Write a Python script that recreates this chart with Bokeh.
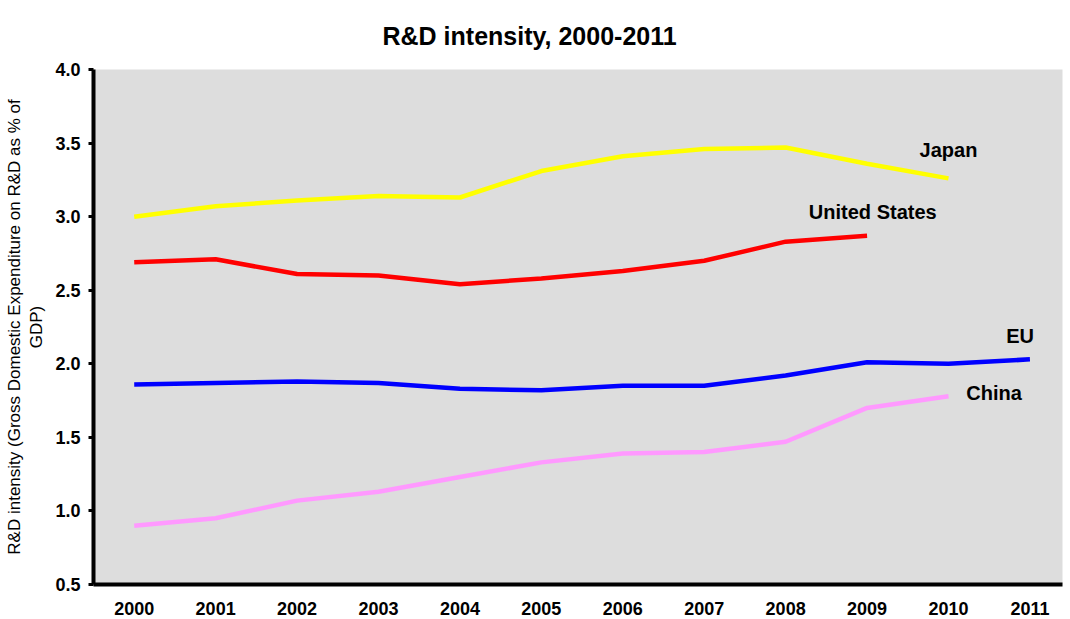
from bokeh.plotting import figure
from bokeh.models import Range1d, FixedTicker, NumeralTickFormatter, Label
from bokeh.embed import file_html
from bokeh.resources import INLINE

# R&D intensity (GERD as % of GDP), 2000-2011
years = list(range(2000, 2012))
japan = [3.00, 3.07, 3.11, 3.14, 3.13, 3.31, 3.41, 3.46, 3.47, 3.36, 3.26]
united_states = [2.69, 2.71, 2.61, 2.60, 2.54, 2.58, 2.63, 2.70, 2.83, 2.87]
eu = [1.86, 1.87, 1.88, 1.87, 1.83, 1.82, 1.85, 1.85, 1.92, 2.01, 2.00, 2.03]
china = [0.90, 0.95, 1.07, 1.13, 1.23, 1.33, 1.39, 1.40, 1.47, 1.70, 1.78]
y_ticks = [0.5, 1.0, 1.5, 2.0, 2.5, 3.0, 3.5, 4.0]

FONT = "Liberation Sans"

p = figure(
    width=1070, height=619,
    x_range=Range1d(1999.5, 2011.4), y_range=Range1d(0.5, 4.0),
    output_backend="svg", toolbar_location=None,
    min_border_left=93, min_border_right=8, min_border_top=57, min_border_bottom=35,
    title="R&D intensity, 2000-2011",
)
p.title.text_font = FONT
p.title.text_font_size = "25px"
p.title.text_font_style = "bold"
p.title.text_color = "black"
p.title.align = "left"
p.title.offset = 289
p.title.standoff = 39
p.title.text_line_height = 0.6

p.background_fill_color = "#DDDDDD"
p.border_fill_color = "white"
p.outline_line_color = None
p.xgrid.grid_line_color = None
p.ygrid.grid_line_color = None

# axes
p.xaxis.ticker = FixedTicker(ticks=years)
p.xaxis.major_tick_line_color = None
p.xaxis.minor_tick_line_color = None
p.xaxis.major_label_standoff = 11
p.yaxis.ticker = FixedTicker(ticks=y_ticks)
p.yaxis.formatter = NumeralTickFormatter(format="0.0")
p.yaxis.minor_tick_line_color = None
p.yaxis.major_tick_in = 0
p.yaxis.major_tick_out = 5
p.yaxis.major_tick_line_width = 3
p.yaxis.major_label_standoff = 8
for ax in (p.xaxis, p.yaxis):
    ax.axis_line_color = "black"
    ax.axis_line_width = 4
    ax.major_label_text_font = FONT
    ax.major_label_text_font_size = "18px"
    ax.major_label_text_font_style = "bold"
    ax.major_label_text_color = "black"
p.yaxis.axis_label = "R&D intensity (Gross Domestic Expenditure on R&D as % of\nGDP)"
p.yaxis.axis_label_text_font = FONT
p.yaxis.axis_label_text_font_size = "17px"
p.yaxis.axis_label_text_font_style = "normal"
p.yaxis.axis_label_text_color = "black"
p.yaxis.axis_label_standoff = 6

series = [
    (japan, "#FFFF00", "Japan", 2010.0, 3.45),
    (united_states, "#FF0000", "United States", 2009.07, 3.03),
    (eu, "#0000FF", "EU", 2010.88, 2.19),
    (china, "#FF99FF", "China", 2010.56, 1.80),
]
for vals, color, name, lx, ly in series:
    p.line(years[:len(vals)], vals, line_color=color, line_width=4.5)
    p.add_layout(Label(x=lx, y=ly, text=name, text_font=FONT, text_font_size="20px",
                       text_font_style="bold", text_color="black",
                       text_align="center", text_baseline="middle"))

open("out.html", "w").write(file_html(p, INLINE))
